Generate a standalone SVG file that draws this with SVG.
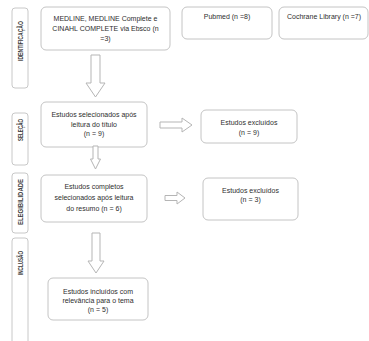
<svg xmlns="http://www.w3.org/2000/svg" width="369" height="341" viewBox="0 0 369 341">
<style>
.bg{fill:#ffffff}
.box{fill:#ffffff;stroke:#c4c4c4;stroke-width:1}
.side{fill:#ffffff;stroke:#c8c8c8;stroke-width:1}
.t{font-family:"Liberation Sans",Arial,sans-serif;font-size:7px;fill:#2e2e2e;text-anchor:middle}
.s{font-family:"Liberation Sans",Arial,sans-serif;font-size:7px;font-weight:bold;fill:#3a3a3a;text-anchor:middle}
.arr{fill:#ffffff;stroke:#b5b5b5;stroke-width:1;stroke-linejoin:miter}
</style>
<rect class="bg" x="0" y="0" width="369" height="341"/>
<g id="lbl-identificacao"><rect class="side" x="12" y="8" width="16" height="80" rx="3"/><text class="s" transform="translate(22.5,41) rotate(-90)" textLength="40" lengthAdjust="spacingAndGlyphs">IDENTIFICAÇÃO</text></g>
<g id="lbl-selecao"><rect class="side" x="12" y="113" width="16" height="52" rx="3"/><text class="s" transform="translate(22.5,130) rotate(-90)" textLength="22" lengthAdjust="spacingAndGlyphs">SELEÇÃO</text></g>
<g id="lbl-elegibilidade"><rect class="side" x="12" y="173" width="16" height="60" rx="3"/><text class="s" transform="translate(22.5,202) rotate(-90)" textLength="46" lengthAdjust="spacingAndGlyphs">ELEGIBILIDADE</text></g>
<g id="lbl-inclusao"><rect class="side" x="12" y="238" width="16" height="110" rx="3"/><text class="s" transform="translate(22.5,263) rotate(-90)" textLength="24" lengthAdjust="spacingAndGlyphs">INCLUSÃO</text></g>
<g id="n-medline"><rect class="box" x="41" y="7" width="129" height="43" rx="5"/><text class="t" x="105.5" y="21">MEDLINE, MEDLINE Complete e</text><text class="t" x="105.5" y="31">CINAHL COMPLETE via Ebsco (n</text><text class="t" x="105.5" y="41">=3)</text></g>
<g id="n-pubmed"><rect class="box" x="182" y="7" width="90" height="32" rx="5"/><text class="t" x="227" y="19">Pubmed (n =8)</text></g>
<g id="n-cochrane"><rect class="box" x="279" y="7" width="89" height="32" rx="5"/><text class="t" x="324" y="19">Cochrane Library (n =7)</text></g>
<g id="n-selecionados"><rect class="box" x="41" y="102" width="106" height="45" rx="5"/><text class="t" x="94" y="117">Estudos selecionados após</text><text class="t" x="94" y="126.5">leitura do título</text><text class="t" x="94" y="136">(n = 9)</text></g>
<g id="n-excluidos1"><rect class="box" x="201" y="110" width="96" height="33" rx="5"/><text class="t" x="249" y="125">Estudos excluídos</text><text class="t" x="249" y="135">(n = 9)</text></g>
<g id="n-completos"><rect class="box" x="41" y="175" width="106" height="47" rx="5"/><text class="t" x="94" y="189">Estudos completos</text><text class="t" x="94" y="200">selecionados após leitura</text><text class="t" x="94" y="211">do resumo (n = 6)</text></g>
<g id="n-excluidos2"><rect class="box" x="203" y="178" width="95" height="42" rx="5"/><text class="t" x="250.5" y="193">Estudos excluídos</text><text class="t" x="250.5" y="202">(n = 3)</text></g>
<g id="n-incluidos"><rect class="box" x="48" y="278" width="100" height="42" rx="5"/><text class="t" x="98" y="294">Estudos incluídos com</text><text class="t" x="98" y="303">relevância para o tema</text><text class="t" x="98" y="312">(n = 5)</text></g>
<g id="connectors">
<polygon class="arr" points="91,55 100,55 100,83 105,83 95.5,97 86,83 91,83"/>
<polygon class="arr" points="93,146 98,146 98,159 100.5,159 95.5,169 90.5,159 93,159"/>
<polygon class="arr" points="92,233 100,233 100,261 104,261 96,273 88,261 92,261"/>
<polygon class="arr" points="160,122 182,122 182,118 192,125 182,132 182,128 160,128"/>
<polygon class="arr" points="165,195.5 177,195.5 177,192 185,198 177,204 177,200.5 165,200.5"/>
</g>
</svg>
